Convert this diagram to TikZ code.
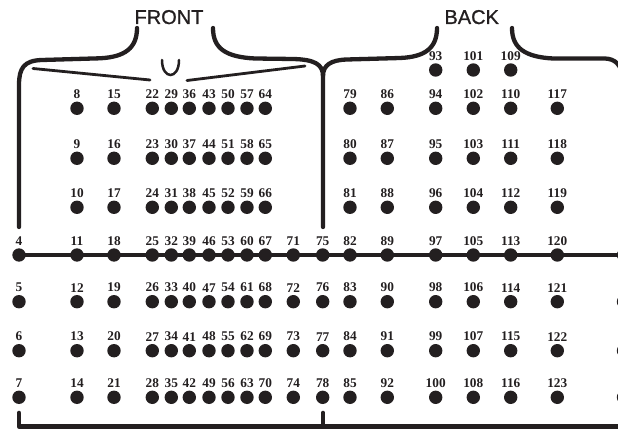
\documentclass[tikz,border=0pt]{standalone}
\usepackage{fontspec}
\usepackage{tikz}
\usetikzlibrary{positioning}
\setmainfont{Liberation Serif}
\newfontfamily\headfont[FakeBold=0.9]{Liberation Sans}
\definecolor{inkish}{HTML}{231F20}
\tikzset{
  dot/.style={circle,fill=inkish,inner sep=0pt,outer sep=0pt,minimum size=13.4pt},
  num/.style={inner sep=0pt,outer sep=0pt,text=inkish,font=\fontsize{13.3}{13.3}\selectfont\bfseries},
  head/.style={inner sep=0pt,anchor=base,text=inkish,font=\headfont\fontsize{20}{20}\selectfont},
  outline/.style={draw=inkish,line width=4.3pt,line cap=round,line join=round},
  collar/.style={draw=inkish,line width=2.8pt,line cap=round},
  rowline/.style={draw=inkish,line width=3.5pt}
}

\begin{document}
\begin{tikzpicture}[x=1pt,y=-1pt]
        \useasboundingbox (0,0) rectangle (618,430);
        % electrode grid, numbered down each column
        \foreach \cx/\nfirst/\rowtop in {19/4/4, 77/8/1, 114/15/1, 152.3/22/1, 171.3/29/1,
            189.3/36/1, 209/43/1, 228/50/1, 247/57/1, 265.3/64/1, 293.3/71/4, 322.7/75/4,
            350/79/1, 387.3/86/1, 435.7/93/0, 473.3/101/0, 510.7/109/0, 557.3/117/1}{
          \foreach \r in {\rowtop,...,7}{
            \pgfmathtruncatemacro{\n}{\nfirst+\r-\rowtop}
            \pgfmathsetmacro{\cy}{{70,108.3,158.3,207.3,255,301.7,350.7,397.3}[\r]}
            \node[dot] (d\n) at (\cx,\cy) {};
            \node[num, above=3pt of d\n] (l\n) {\n};
          }
        }
        \foreach \r/\cy in {4/255, 5/301.7, 6/350.7, 7/397.3}
          \node[dot] (cut\r) at (623.5,\cy) {};
        \draw[rowline] (d4.center) -- (cut4.center);

        % shoulders
        \draw[outline] (137,28) .. controls (137,48) and (125,57) .. (100,58.3) -- (42,60)
              .. controls (24,60.5) and (19,68) .. (19,85) -- (19,227);
        \draw[outline] (213,28) .. controls (213,48) and (225,57) .. (255,58.5) -- (293,59)
              .. controls (314,59.5) and (323,64) .. (323,76) -- (323,227);
        \draw[outline] (437,28) .. controls (437,48) and (425,57) .. (400,58) -- (347,59.5)
              .. controls (331,60) and (323,65) .. (323,76);
        \draw[outline] (512,28) .. controls (512,48) and (525,57) .. (553,58.5) -- (605,58.5)
              .. controls (615,59) and (621,64) .. (623,78);

        % collar
        \draw[collar] (33,68.5) -- (150,80);
        \draw[collar] (187,80.5) -- (305,66);
        \draw[collar,line width=2.5pt] (162,60) .. controls (162,80) and (179,80) .. (179,60);

        % bottom bracket
        \coordinate (bl) at (19,413);
        \coordinate (bc) at (19,426.5);
        \coordinate (mt) at (323,413);
        \coordinate (mb) at (323,426.5);
        \coordinate (br) at (640,426.5);
        \draw[outline,line width=4.6pt] (bl) -- (bc) -- (br);
        \draw[outline,line width=4.6pt] (mt) -- (mb);

        \node[head] (front) at (169,24) {FRONT};
        \node[head] (back) at (471.7,24) {BACK};
    \end{tikzpicture}
\end{document}
